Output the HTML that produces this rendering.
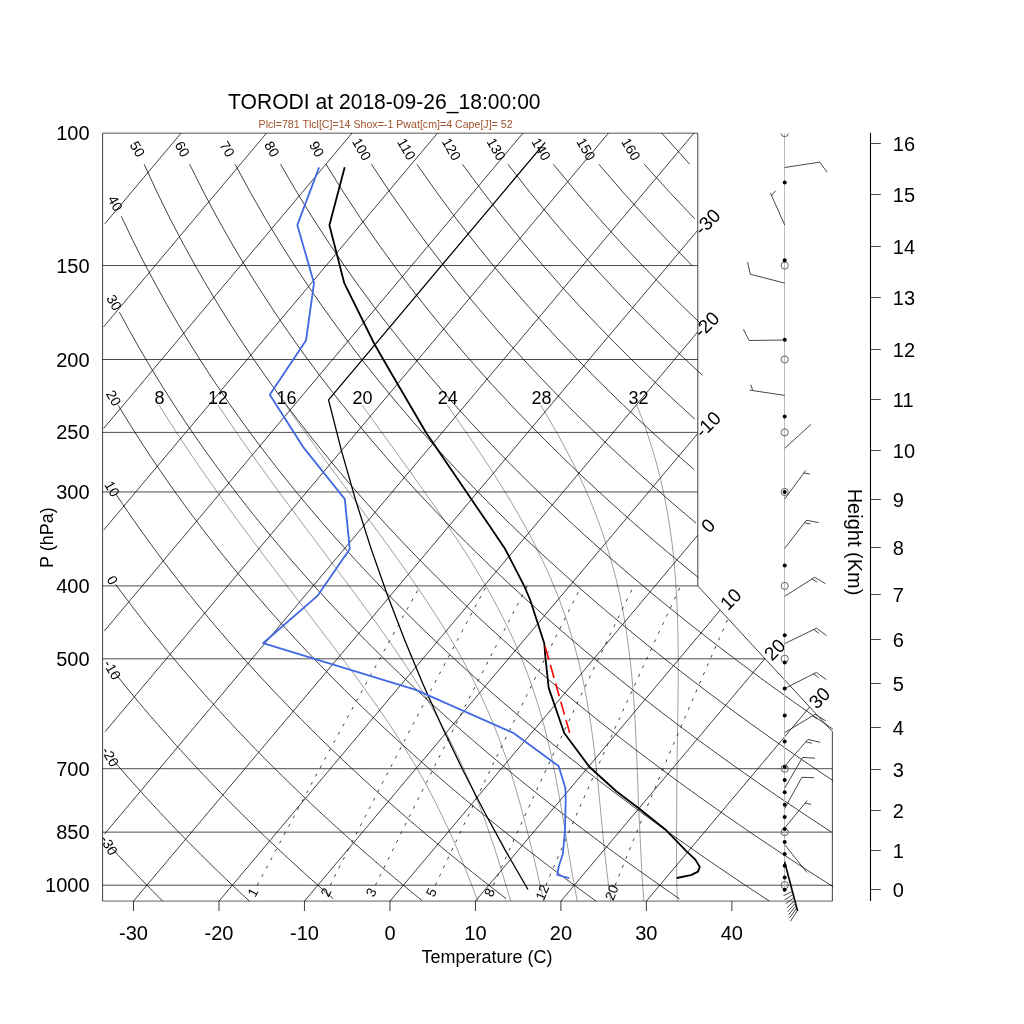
<!DOCTYPE html>
<html><head><meta charset="utf-8"><style>
html,body{margin:0;padding:0;background:#fff;}
svg{display:block;will-change:transform;}
text{font-family:"Liberation Sans",sans-serif;}
.ib{stroke:#000;stroke-width:1;opacity:.7}
.it,.da{stroke:#000;stroke-width:1;fill:none;opacity:.75}
.ma{stroke:#000;stroke-width:.8;fill:none;opacity:.48}
.mr{stroke:#000;stroke-width:1;fill:none;stroke-dasharray:3 6.5;opacity:.75}
.sa{stroke:#000;stroke-width:1.3;fill:none}
.ol{stroke:#000;stroke-width:1;fill:none;opacity:.75}
.td{stroke:#000;stroke-width:1.8;fill:none;stroke-linejoin:round}
.dw{stroke:#4169e1;stroke-width:1.8;fill:none;stroke-linejoin:round}
.pc{stroke:#f00;stroke-width:1.6;fill:none;stroke-dasharray:13.5 5.5}
.dl{font-size:14px;text-anchor:middle;dominant-baseline:central}
.ml{font-size:18px;text-anchor:middle;dominant-baseline:central}
.xl{font-size:13.5px;text-anchor:middle;dominant-baseline:central}
.tl{font-size:19px;text-anchor:middle;dominant-baseline:central}
.pl{font-size:20px;text-anchor:end;dominant-baseline:central}
.xt{font-size:20px;text-anchor:middle}
.tk{stroke:#000;stroke-width:1;opacity:.75}
.wind .staff{stroke:#bbb;stroke-width:1}
.oc{fill:none;stroke:#555;stroke-width:.9}
.wind line{stroke:#333;stroke-width:.9}
.hax{stroke:#000;stroke-width:1.1}
.htk{stroke:#000;stroke-width:1;opacity:.7}
.hl{font-size:20px}
</style></head><body>
<svg width="1024" height="1024" viewBox="0 0 1024 1024">
<rect width="1024" height="1024" fill="#fff"/>
<text x="228.0" y="108.7" style="font-size:22px" textLength="312.6" lengthAdjust="spacingAndGlyphs">TORODI at 2018-09-26_18:00:00</text>
<text x="258.6" y="128" style="font-size:10.7px;fill:#a0522d" textLength="254" lengthAdjust="spacingAndGlyphs">Plcl=781 Tlcl[C]=14 Shox=-1 Pwat[cm]=4 Cape[J]= 52</text>
<clipPath id="vp"><rect x="101.8" y="132.3" width="731.4" height="769.5"/></clipPath>
<g clip-path="url(#vp)">
<line x1="102.6" y1="885.22" x2="832.36" y2="885.22" class="ib"/>
<line x1="102.6" y1="832.13" x2="832.36" y2="832.13" class="ib"/>
<line x1="102.6" y1="768.71" x2="832.36" y2="768.71" class="ib"/>
<line x1="102.6" y1="658.81" x2="765.12" y2="658.81" class="ib"/>
<line x1="102.6" y1="585.92" x2="697.81" y2="585.92" class="ib"/>
<line x1="102.6" y1="491.95" x2="697.81" y2="491.95" class="ib"/>
<line x1="102.6" y1="432.39" x2="697.81" y2="432.39" class="ib"/>
<line x1="102.6" y1="359.51" x2="697.81" y2="359.51" class="ib"/>
<line x1="102.6" y1="265.54" x2="697.81" y2="265.54" class="ib"/>
<line x1="104.83" y1="223.78" x2="181.1" y2="133.1" class="it"/>
<line x1="103.58" y1="326.9" x2="266.58" y2="133.1" class="it"/>
<line x1="103.66" y1="428.45" x2="352.06" y2="133.1" class="it"/>
<line x1="103.79" y1="529.94" x2="437.55" y2="133.1" class="it"/>
<line x1="104.39" y1="630.86" x2="523.03" y2="133.1" class="it"/>
<line x1="105.06" y1="731.69" x2="608.51" y2="133.1" class="it"/>
<line x1="104.46" y1="834.05" x2="693.99" y2="133.1" class="it"/>
<line x1="133.5" y1="901.16" x2="697.81" y2="230.2" class="it"/>
<line x1="218.98" y1="901.16" x2="697.81" y2="331.83" class="it"/>
<line x1="304.46" y1="901.16" x2="697.81" y2="433.47" class="it"/>
<line x1="389.95" y1="901.16" x2="697.81" y2="535.11" class="it"/>
<line x1="475.43" y1="901.16" x2="720.17" y2="610.16" class="it"/>
<line x1="560.91" y1="901.16" x2="764.92" y2="658.59" class="it"/>
<line x1="646.39" y1="901.16" x2="809.67" y2="707.02" class="it"/>
<polyline points="110.79,847.15 114.16,850.8 117.5,854.41 120.84,857.98 124.15,861.51 127.45,865.01 130.73,868.46 134,871.88 137.25,875.27 140.48,878.62 143.7,881.93 146.91,885.22 150.1,888.47 153.27,891.69 156.43,894.87 159.58,898.03 162.71,901.15" class="da"/>
<polyline points="112.35,759.24 116.45,764.01 120.52,768.71 124.56,773.35 128.59,777.91 132.58,782.42 136.56,786.86 140.51,791.25 144.43,795.57 148.33,799.84 152.21,804.06 156.07,808.22 159.9,812.33 163.72,816.39 167.51,820.39 171.28,824.35 175.03,828.27 178.76,832.13 182.47,835.95 186.15,839.73 189.82,843.46 193.47,847.15 197.1,850.8 200.71,854.41 204.3,857.98 207.88,861.51 211.43,865.01 214.97,868.46 218.49,871.88 221.99,875.27 225.47,878.62 228.94,881.93 232.39,885.22 235.83,888.47 239.24,891.69 242.64,894.87 246.03,898.03 249.4,901.15" class="da"/>
<polyline points="114.81,672.87 119.76,679.07 124.68,685.15 129.55,691.12 134.39,696.99 139.19,702.75 143.96,708.41 148.69,713.98 153.39,719.45 158.05,724.83 162.68,730.12 167.27,735.33 171.84,740.46 176.37,745.51 180.87,750.48 185.35,755.38 189.79,760.2 194.2,764.96 198.58,769.64 202.94,774.26 207.27,778.82 211.57,783.31 215.84,787.75 220.08,792.12 224.3,796.43 228.5,800.69 232.66,804.9 236.81,809.05 240.92,813.14 245.02,817.19 249.09,821.19 253.13,825.14 257.16,829.04 261.16,832.9 265.13,836.71 269.09,840.48 273.02,844.2 276.93,847.89 280.82,851.53 284.69,855.13 288.54,858.69 292.37,862.21 296.17,865.7 299.96,869.15 303.73,872.56 307.48,875.94 311.21,879.28 314.92,882.59 318.61,885.87 322.28,889.11 325.94,892.33 329.58,895.51 333.2,898.66" class="da"/>
<polyline points="115.6,584.28 121.56,592.39 127.46,600.3 133.31,608.02 139.11,615.56 144.85,622.94 150.54,630.15 156.18,637.2 161.76,644.11 167.31,650.87 172.8,657.5 178.24,663.99 183.64,670.36 189,676.6 194.31,682.73 199.58,688.75 204.8,694.66 209.99,700.46 215.13,706.16 220.24,711.76 225.3,717.27 230.33,722.69 235.32,728.02 240.27,733.26 245.19,738.42 250.07,743.5 254.92,748.5 259.73,753.43 264.51,758.28 269.25,763.06 273.96,767.78 278.64,772.42 283.29,777.01 287.91,781.52 292.5,785.98 297.06,790.38 301.59,794.71 306.09,798.99 310.56,803.22 315,807.39 319.42,811.51 323.81,815.58 328.17,819.6 332.51,823.57 336.82,827.49 341.1,831.36 345.36,835.19 349.6,838.98 353.81,842.72 358,846.42 362.16,850.08 366.3,853.69 370.42,857.27 374.51,860.81 378.59,864.31 382.64,867.77 386.66,871.2 390.67,874.59 394.66,877.95 398.62,881.27 402.57,884.56 406.49,887.82 410.4,891.04 414.28,894.24 418.15,897.4 422,900.53" class="da"/>
<polyline points="115.94,494.12 123.07,504.76 130.13,515.07 137.11,525.05 144,534.75 150.83,544.16 157.57,553.31 164.25,562.21 170.85,570.88 177.39,579.32 183.86,587.55 190.26,595.57 196.6,603.41 202.87,611.06 209.09,618.53 215.24,625.84 221.34,632.99 227.38,639.98 233.37,646.83 239.3,653.54 245.17,660.11 251,666.55 256.77,672.87 262.49,679.07 268.17,685.15 273.8,691.12 279.38,696.99 284.91,702.75 290.4,708.41 295.85,713.98 301.25,719.45 306.61,724.83 311.93,730.12 317.21,735.33 322.45,740.46 327.65,745.51 332.81,750.48 337.94,755.38 343.03,760.2 348.08,764.96 353.09,769.64 358.08,774.26 363.02,778.82 367.94,783.31 372.82,787.75 377.66,792.12 382.48,796.43 387.26,800.69 392.02,804.9 396.74,809.05 401.43,813.14 406.1,817.19 410.73,821.19 415.34,825.14 419.91,829.04 424.46,832.9 428.99,836.71 433.48,840.48 437.95,844.2 442.4,847.89 446.82,851.53 451.21,855.13 455.58,858.69 459.92,862.21 464.24,865.7 468.54,869.15 472.81,872.56 477.06,875.94 481.29,879.28 485.49,882.59 489.67,885.87 493.83,889.11 497.97,892.33 502.09,895.51 506.18,898.66" class="da"/>
<polyline points="118.12,405.16 126.59,419.06 134.94,432.39 143.18,445.21 151.31,457.53 159.34,469.41 167.26,480.88 175.08,491.95 182.8,502.66 190.43,513.03 197.97,523.08 205.42,532.83 212.78,542.3 220.05,551.5 227.24,560.45 234.36,569.16 241.39,577.65 248.34,585.92 255.23,593.98 262.04,601.85 268.77,609.54 275.44,617.05 282.05,624.39 288.58,631.57 295.06,638.59 301.47,645.47 307.82,652.21 314.11,658.81 320.34,665.27 326.52,671.62 332.64,677.84 338.71,683.94 344.72,689.94 350.68,695.82 356.6,701.61 362.46,707.29 368.27,712.87 374.04,718.36 379.76,723.76 385.43,729.07 391.06,734.3 396.65,739.44 402.19,744.51 407.69,749.49 413.15,754.4 418.57,759.24 423.95,764.01 429.29,768.71 434.59,773.35 439.85,777.91 445.08,782.42 450.27,786.86 455.43,791.25 460.55,795.57 465.63,799.84 470.69,804.06 475.71,808.22 480.69,812.33 485.65,816.39 490.57,820.39 495.46,824.35 500.33,828.27 505.16,832.13 509.96,835.95 514.73,839.73 519.48,843.46 524.19,847.15 528.88,850.8 533.54,854.41 538.17,857.98 542.78,861.51 547.36,865.01 551.92,868.46 556.45,871.88 560.95,875.27 565.43,878.62 569.89,881.93 574.32,885.22 578.73,888.47 583.11,891.69 587.47,894.87 591.81,898.03 596.13,901.15" class="da"/>
<polyline points="119.36,312.14 129.35,330.49 139.18,347.87 148.86,364.37 158.39,380.08 167.78,395.06 177.03,409.39 186.14,423.12 195.12,436.29 203.97,448.95 212.7,461.14 221.3,472.89 229.79,484.24 238.16,495.2 246.42,505.81 254.58,516.08 262.63,526.04 270.58,535.7 278.44,545.09 286.19,554.21 293.86,563.09 301.44,571.73 308.93,580.15 316.33,588.36 323.66,596.36 330.9,604.18 338.07,611.81 345.16,619.27 352.17,626.56 359.12,633.69 365.99,640.67 372.8,647.51 379.54,654.2 386.22,660.76 392.83,667.19 399.38,673.5 405.87,679.68 412.3,685.75 418.68,691.72 424.99,697.57 431.26,703.32 437.46,708.97 443.62,714.53 449.73,719.99 455.78,725.36 461.79,730.65 467.74,735.85 473.65,740.97 479.52,746.01 485.33,750.97 491.11,755.86 496.84,760.68 502.52,765.43 508.17,770.11 513.77,774.72 519.33,779.27 524.86,783.76 530.34,788.19 535.79,792.55 541.2,796.86 546.57,801.11 551.9,805.31 557.2,809.46 562.47,813.55 567.7,817.59 572.89,821.59 578.05,825.53 583.18,829.43 588.28,833.28 593.35,837.09 598.38,840.85 603.39,844.57 608.36,848.25 613.3,851.89 618.22,855.49 623.1,859.04 627.96,862.56 632.79,866.05 637.59,869.49 642.37,872.9 647.11,876.28 651.84,879.62 656.53,882.92 661.2,886.2 665.84,889.44 670.46,892.64 675.06,895.82 679.63,898.97" class="da"/>
<polyline points="121.26,216.27 132.91,240.66 144.38,263.35 155.66,284.57 166.74,304.49 177.63,323.27 188.34,341.03 198.87,357.87 209.22,373.88 219.41,389.15 229.42,403.74 239.28,417.7 248.98,431.09 258.53,443.95 267.94,456.32 277.21,468.24 286.34,479.75 295.35,490.86 304.23,501.6 312.98,512.01 321.62,522.09 330.15,531.87 338.56,541.37 346.87,550.59 355.08,559.57 363.19,568.3 371.19,576.81 379.11,585.1 386.93,593.19 394.67,601.08 402.31,608.78 409.88,616.31 417.36,623.66 424.76,630.86 432.09,637.9 439.34,644.79 446.52,651.54 453.62,658.15 460.66,664.63 467.63,670.99 474.53,677.22 481.37,683.34 488.14,689.34 494.86,695.24 501.51,701.03 508.1,706.72 514.64,712.32 521.12,717.82 527.54,723.22 533.91,728.54 540.23,733.78 546.5,738.93 552.72,744 558.88,749 565,753.92 571.07,758.76 577.1,763.54 583.07,768.25 589.01,772.88 594.9,777.46 600.75,781.97 606.55,786.42 612.31,790.81 618.04,795.14 623.72,799.42 629.36,803.64 634.97,807.81 640.53,811.92 646.06,815.98 651.55,820 657.01,823.96 662.43,827.88 667.82,831.75 673.17,835.57 678.49,839.35 683.78,843.09 689.03,846.78 694.25,850.44 699.44,854.05 704.6,857.63 709.72,861.16 714.82,864.66 719.89,868.12 724.93,871.54 729.93,874.93 734.91,878.28 739.87,881.6 744.79,884.89 749.69,888.14 754.56,891.37 759.41,894.55 764.22,897.71 769.02,900.84" class="da"/>
<polyline points="144.12,164.23 157.24,192.65 170.13,218.8 182.79,243 195.2,265.54 207.38,286.62 219.33,306.42 231.06,325.09 242.57,342.75 253.86,359.51 264.96,375.44 275.85,390.64 286.56,405.16 297.09,419.06 307.44,432.39 317.63,445.21 327.66,457.53 337.52,469.41 347.25,480.88 356.82,491.95 366.26,502.66 375.56,513.03 384.73,523.08 393.78,532.83 402.71,542.3 411.52,551.5 420.22,560.45 428.81,569.16 437.29,577.65 445.67,585.92 453.95,593.98 462.13,601.85 470.22,609.54 478.22,617.05 486.13,624.39 493.96,631.57 501.7,638.59 509.36,645.47 516.94,652.21 524.44,658.81 531.87,665.27 539.22,671.62 546.51,677.84 553.72,683.94 560.86,689.94 567.94,695.82 574.96,701.61 581.91,707.29 588.8,712.87 595.63,718.36 602.4,723.76 609.11,729.07 615.76,734.3 622.36,739.44 628.91,744.51 635.4,749.49 641.84,754.4 648.23,759.24 654.57,764.01 660.86,768.71 667.11,773.35 673.3,777.91 679.45,782.42 685.56,786.86 691.62,791.25 697.64,795.57 703.61,799.84 709.54,804.06 715.43,808.22 721.28,812.33 727.1,816.39 732.87,820.39 738.6,824.35 744.3,828.27 749.96,832.13 755.58,835.95 761.16,839.73 766.72,843.46 772.23,847.15 777.71,850.8 783.16,854.41 788.58,857.98 793.96,861.51 799.31,865.01 804.63,868.46 809.92,871.88 815.17,875.27 820.4,878.62 825.6,881.93 830.77,885.22 835.9,888.47" class="da"/>
<polyline points="189.59,164.23 203.85,192.65 217.82,218.8 231.5,243 244.89,265.54 258,286.62 270.83,306.42 283.41,325.09 295.73,342.75 307.81,359.51 319.66,375.44 331.29,390.64 342.71,405.16 353.93,419.06 364.95,432.39 375.78,445.21 386.44,457.53 396.92,469.41 407.24,480.88 417.4,491.95 427.41,502.66 437.27,513.03 446.99,523.08 456.57,532.83 466.02,542.3 475.34,551.5 484.54,560.45 493.63,569.16 502.59,577.65 511.45,585.92 520.19,593.98 528.83,601.85 537.37,609.54 545.82,617.05 554.16,624.39 562.42,631.57 570.58,638.59 578.65,645.47 586.64,652.21 594.55,658.81 602.38,665.27 610.12,671.62 617.79,677.84 625.39,683.94 632.91,689.94 640.36,695.82 647.74,701.61 655.06,707.29 662.31,712.87 669.49,718.36 676.61,723.76 683.67,729.07 690.66,734.3 697.6,739.44 704.48,744.51 711.3,749.49 718.07,754.4 724.79,759.24 731.45,764.01 738.05,768.71 744.61,773.35 751.12,777.91 757.58,782.42 763.99,786.86 770.35,791.25 776.66,795.57 782.93,799.84 789.16,804.06 795.34,808.22 801.48,812.33 807.58,816.39 813.63,820.39 819.65,824.35 825.62,828.27 831.56,832.13" class="da"/>
<polyline points="235.06,164.23 250.47,192.65 265.52,218.8 280.22,243 294.58,265.54 308.61,286.62 322.33,306.42 335.75,325.09 348.89,342.75 361.76,359.51 374.37,375.44 386.73,390.64 398.86,405.16 410.76,419.06 422.45,432.39 433.93,445.21 445.22,457.53 456.32,469.41 467.24,480.88 477.98,491.95 488.56,502.66 498.98,513.03 509.24,523.08 519.36,532.83 529.33,542.3 539.17,551.5 548.87,560.45 558.44,569.16 567.89,577.65 577.22,585.92 586.43,593.98 595.53,601.85 604.52,609.54 613.41,617.05 622.19,624.39 630.87,631.57 639.46,638.59 647.95,645.47 656.35,652.21 664.66,658.81 672.88,665.27 681.02,671.62 689.08,677.84 697.06,683.94 704.96,689.94 712.78,695.82 720.53,701.61 728.21,707.29 735.81,712.87 743.35,718.36 750.82,723.76 758.22,729.07 765.56,734.3 772.84,739.44 780.05,744.51 787.21,749.49 794.3,754.4 801.34,759.24 808.32,764.01 815.25,768.71 822.12,773.35 828.93,777.91 835.7,782.42" class="da"/>
<polyline points="280.52,164.23 297.08,192.65 313.21,218.8 328.93,243 344.26,265.54 359.22,286.62 373.83,306.42 388.1,325.09 402.05,342.75 415.7,359.51 429.07,375.44 442.17,390.64 455,405.16 467.6,419.06 479.95,432.39 492.08,445.21 504,457.53 515.71,469.41 527.23,480.88 538.56,491.95 549.71,502.66 560.69,513.03 571.5,523.08 582.15,532.83 592.64,542.3 602.99,551.5 613.2,560.45 623.26,569.16 633.19,577.65 643,585.92 652.68,593.98 662.23,601.85 671.68,609.54 681,617.05 690.22,624.39 699.33,631.57 708.34,638.59 717.25,645.47 726.06,652.21 734.77,658.81 743.39,665.27 751.93,671.62 760.37,677.84 768.73,683.94 777.01,689.94 785.2,695.82 793.32,701.61 801.36,707.29 809.32,712.87 817.21,718.36 825.03,723.76 832.78,729.07" class="da"/>
<polyline points="325.99,164.23 343.69,192.65 360.9,218.8 377.65,243 393.95,265.54 409.83,286.62 425.32,306.42 440.44,325.09 455.21,342.75 469.65,359.51 483.78,375.44 497.61,390.64 511.15,405.16 524.43,419.06 537.45,432.39 550.23,445.21 562.78,457.53 575.11,469.41 587.23,480.88 599.14,491.95 610.86,502.66 622.4,513.03 633.75,523.08 644.94,532.83 655.95,542.3 666.81,551.5 677.52,560.45 688.08,569.16 698.49,577.65" class="da"/>
<polyline points="371.46,164.23 390.31,192.65 408.6,218.8 426.36,243 443.63,265.54 460.44,286.62 476.82,306.42 492.79,325.09 508.37,342.75 523.6,359.51 538.48,375.44 553.04,390.64 567.3,405.16 581.26,419.06 594.96,432.39 608.39,445.21 621.57,457.53 634.51,469.41 647.22,480.88 659.72,491.95 672.01,502.66 684.11,513.03 696.01,523.08" class="da"/>
<polyline points="416.93,164.23 436.92,192.65 456.29,218.8 475.08,243 493.32,265.54 511.06,286.62 528.32,306.42 545.14,325.09 561.54,342.75 577.55,359.51 593.19,375.44 608.48,390.64 623.45,405.16 638.1,419.06 652.46,432.39 666.54,445.21 680.35,457.53 693.9,469.41" class="da"/>
<polyline points="462.4,164.23 483.54,192.65 503.99,218.8 523.79,243 543.01,265.54 561.67,286.62 579.81,306.42 597.48,325.09 614.7,342.75 631.49,359.51 647.89,375.44 663.92,390.64 679.59,405.16 694.93,419.06" class="da"/>
<polyline points="507.87,164.23 530.15,192.65 551.68,218.8 572.51,243 592.69,265.54 612.28,286.62 631.31,306.42 649.83,325.09 667.86,342.75 685.44,359.51 702.6,375.44" class="da"/>
<polyline points="553.34,164.23 576.77,192.65 599.37,218.8 621.22,243 642.38,265.54 662.89,286.62 682.81,306.42 702.17,325.09" class="da"/>
<polyline points="598.8,164.23 623.38,192.65 647.07,218.8 669.94,243 692.07,265.54" class="da"/>
<polyline points="644.27,164.23 670,192.65 694.76,218.8" class="da"/>
<polyline points="661.74,133.1 689.74,164.23" class="da"/>
<polyline points="677.31,901.15 677.21,898.03 677.12,894.87 677.04,891.69 676.97,888.47 676.9,885.22 676.84,881.93 676.78,878.62 676.73,875.27 676.69,871.88 676.64,868.46 676.61,865.01 676.6,861.51 676.58,857.98 676.56,854.41 676.55,850.8 676.55,847.15 676.55,843.46 676.55,839.73 676.56,835.95 676.58,832.13 676.59,828.27 676.61,824.35 676.64,820.39 676.66,816.39 676.69,812.33 676.72,808.22 676.76,804.06 676.79,799.84 676.82,795.57 676.85,791.25 676.88,786.86 676.91,782.42 676.97,777.91 677,773.35 677.03,768.71 677.05,764.01 677.11,759.24 677.17,754.4 677.24,749.49 677.31,744.51 677.39,739.44 677.47,734.3 677.56,729.07 677.64,723.76 677.73,718.36 677.82,712.87 677.9,707.29 677.98,701.61 678.05,695.82 678.12,689.94 678.15,683.94 678.19,677.84 678.21,671.62 678.22,665.27 678.21,658.81 678.17,652.21 678.11,645.47 678.01,638.59 677.88,631.57 677.7,624.39 677.48,617.05 677.2,609.54 676.86,601.85 676.45,593.98 675.96,585.92 675.38,577.65 674.7,569.16 673.89,560.45 673.01,551.5 671.94,542.3 670.56,532.83 669.19,523.08 667.53,513.03 665.63,502.66 663.45,491.95 660.96,480.88 658.12,469.41 654.87,457.53 651.16,445.21 646.98,432.39 642.21,419.06 636.8,405.16" class="ma"/>
<polyline points="643.84,901.15 643.6,898.03 643.37,894.87 643.14,891.69 642.92,888.47 642.71,885.22 642.5,881.93 642.29,878.62 642.09,875.27 641.88,871.88 641.68,868.46 641.48,865.01 641.32,861.51 641.14,857.98 640.95,854.41 640.77,850.8 640.59,847.15 640.41,843.46 640.24,839.73 640.06,835.95 639.88,832.13 639.7,828.27 639.51,824.35 639.33,820.39 639.13,816.39 638.94,812.33 638.74,808.22 638.56,804.06 638.39,799.84 638.22,795.57 638.04,791.25 637.91,786.86 637.75,782.42 637.58,777.91 637.41,773.35 637.23,768.71 637.05,764.01 636.87,759.24 636.67,754.4 636.47,749.49 636.25,744.51 636.02,739.44 635.78,734.3 635.52,729.07 635.24,723.76 634.94,718.36 634.61,712.87 634.26,707.29 633.88,701.61 633.46,695.82 633.01,689.94 632.52,683.94 631.98,677.84 631.34,671.62 630.68,665.27 629.97,658.81 629.18,652.21 628.32,645.47 627.38,638.59 626.35,631.57 625.22,624.39 624.04,617.05 622.66,609.54 621.15,601.85 619.5,593.98 617.65,585.92 615.69,577.65 613.5,569.16 611.1,560.45 608.48,551.5 605.61,542.3 602.46,532.83 599.01,523.08 595.23,513.03 591.08,502.66 586.53,491.95 581.54,480.88 576.1,469.41 570.15,457.53 563.67,445.21 556.61,432.39 548.95,419.06 540.64,405.16" class="ma"/>
<polyline points="610.55,901.15 610.13,898.03 609.72,894.87 609.31,891.69 608.91,888.47 608.51,885.22 608.11,881.93 607.72,878.62 607.32,875.27 606.92,871.88 606.51,868.46 606.14,865.01 605.74,861.51 605.34,857.98 604.94,854.41 604.53,850.8 604.14,847.15 603.77,843.46 603.39,839.73 603.02,835.95 602.64,832.13 602.27,828.27 601.9,824.35 601.52,820.39 601.14,816.39 600.76,812.33 600.37,808.22 599.97,804.06 599.56,799.84 599.14,795.57 598.75,791.25 598.32,786.86 597.88,782.42 597.42,777.91 596.94,773.35 596.45,768.71 595.93,764.01 595.39,759.24 594.82,754.4 594.23,749.49 593.61,744.51 592.95,739.44 592.25,734.3 591.52,729.07 590.74,723.76 589.92,718.36 589.04,712.87 588.1,707.29 587.11,701.61 586.04,695.82 584.91,689.94 583.7,683.94 582.4,677.84 581.01,671.62 579.52,665.27 577.92,658.81 576.2,652.21 574.36,645.47 572.39,638.59 570.25,631.57 567.99,624.39 565.55,617.05 562.92,609.54 560.1,601.85 557.07,593.98 553.81,585.92 550.32,577.65 546.57,569.16 542.54,560.45 538.22,551.5 533.59,542.3 528.63,532.83 523.31,523.08 517.62,513.03 511.58,502.66 505.11,491.95 498.23,480.88 490.91,469.41 483.14,457.53 474.9,445.21 466.18,432.39 456.96,419.06 447.24,405.16" class="ma"/>
<polyline points="577.24,901.15 576.67,898.03 576.09,894.87 575.51,891.69 574.92,888.47 574.32,885.22 573.71,881.93 573.11,878.62 572.51,875.27 571.91,871.88 571.31,868.46 570.7,865.01 570.09,861.51 569.53,857.98 568.93,854.41 568.34,850.8 567.74,847.15 567.13,843.46 566.52,839.73 565.9,835.95 565.28,832.13 564.65,828.27 564.01,824.35 563.35,820.39 562.69,816.39 562,812.33 561.31,808.22 560.59,804.06 559.85,799.84 559.09,795.57 558.31,791.25 557.5,786.86 556.7,782.42 555.84,777.91 554.95,773.35 554.01,768.71 553.04,764.01 552.03,759.24 550.98,754.4 549.87,749.49 548.71,744.51 547.5,739.44 546.22,734.3 544.88,729.07 543.47,723.76 541.99,718.36 540.42,712.87 538.77,707.29 537.02,701.61 535.18,695.82 533.21,689.94 531.17,683.94 529.01,677.84 526.69,671.62 524.24,665.27 521.66,658.81 518.92,652.21 516.02,645.47 512.95,638.59 509.7,631.57 506.25,624.39 502.61,617.05 498.75,609.54 494.67,601.85 490.35,593.98 485.79,585.92 480.97,577.65 475.89,569.16 470.53,560.45 464.88,551.5 458.94,542.3 452.69,532.83 446.18,523.08 439.32,513.03 432.12,502.66 424.6,491.95 416.73,480.88 408.52,469.41 399.95,457.53 391.02,445.21 381.73,432.39 372.07,419.06 362.03,405.16" class="ma"/>
<polyline points="543.77,901.15 543.05,898.03 542.32,894.87 541.6,891.69 540.86,888.47 540.13,885.22 539.38,881.93 538.63,878.62 537.87,875.27 537.09,871.88 536.3,868.46 535.49,865.01 534.71,861.51 533.89,857.98 533.05,854.41 532.16,850.8 531.26,847.15 530.34,843.46 529.41,839.73 528.47,835.95 527.5,832.13 526.52,828.27 525.52,824.35 524.49,820.39 523.44,816.39 522.37,812.33 521.26,808.22 520.13,804.06 518.96,799.84 517.75,795.57 516.51,791.25 515.23,786.86 513.9,782.42 512.53,777.91 511.1,773.35 509.63,768.71 508.1,764.01 506.5,759.24 504.84,754.4 503.12,749.49 501.32,744.51 499.44,739.44 497.48,734.3 495.44,729.07 493.3,723.76 491.05,718.36 488.71,712.87 486.26,707.29 483.7,701.61 481.02,695.82 478.2,689.94 475.26,683.94 472.18,677.84 468.95,671.62 465.56,665.27 462.02,658.81 458.31,652.21 454.43,645.47 450.38,638.59 446.13,631.57 441.69,624.39 437.06,617.05 432.22,609.54 427.17,601.85 421.91,593.98 416.43,585.92 410.72,577.65 404.78,569.16 398.61,560.45 392.2,551.5 385.55,542.3 378.66,532.83 371.51,523.08 364.12,513.03 356.53,502.66 348.63,491.95 340.47,480.88 332.03,469.41 323.34,457.53 314.36,445.21 305.12,432.39 295.59,419.06 285.79,405.16" class="ma"/>
<polyline points="510.67,901.15 509.74,898.03 508.8,894.87 507.86,891.69 506.9,888.47 505.93,885.22 504.95,881.93 503.96,878.62 502.94,875.27 501.91,871.88 500.85,868.46 499.82,865.01 498.73,861.51 497.63,857.98 496.5,854.41 495.34,850.8 494.16,847.15 492.95,843.46 491.71,839.73 490.44,835.95 489.13,832.13 487.79,828.27 486.4,824.35 484.98,820.39 483.5,816.39 481.97,812.33 480.37,808.22 478.73,804.06 477.04,799.84 475.31,795.57 473.52,791.25 471.67,786.86 469.77,782.42 467.81,777.91 465.78,773.35 463.68,768.71 461.51,764.01 459.26,759.24 456.94,754.4 454.52,749.49 452.02,744.51 449.42,739.44 446.76,734.3 443.97,729.07 441.09,723.76 438.09,718.36 434.98,712.87 431.75,707.29 428.41,701.61 424.93,695.82 421.33,689.94 417.59,683.94 413.72,677.84 409.7,671.62 405.53,665.27 401.22,658.81 396.75,652.21 392.13,645.47 387.34,638.59 382.39,631.57 377.28,624.39 371.99,617.05 366.54,609.54 360.91,601.85 355.1,593.98 349.12,585.92 342.96,577.65 336.61,569.16 330.07,560.45 323.36,551.5 316.45,542.3 309.35,532.83 302.05,523.08 294.57,513.03 286.88,502.66 278.99,491.95 270.91,480.88 262.62,469.41 254.12,457.53 245.42,445.21 236.51,432.39 227.4,419.06 218.07,405.16" class="ma"/>
<polyline points="477.77,901.15 476.59,898.03 475.41,894.87 474.2,891.69 472.98,888.47 471.74,885.22 470.48,881.93 469.19,878.62 467.88,875.27 466.53,871.88 465.15,868.46 463.79,865.01 462.37,861.51 460.92,857.98 459.43,854.41 457.91,850.8 456.36,847.15 454.77,843.46 453.13,839.73 451.46,835.95 449.74,832.13 447.98,828.27 446.17,824.35 444.31,820.39 442.4,816.39 440.43,812.33 438.41,808.22 436.33,804.06 434.18,799.84 431.97,795.57 429.69,791.25 427.34,786.86 424.92,782.42 422.42,777.91 419.84,773.35 417.18,768.71 414.44,764.01 411.6,759.24 408.67,754.4 405.68,749.49 402.57,744.51 399.33,739.44 395.99,734.3 392.55,729.07 389.01,723.76 385.36,718.36 381.61,712.87 377.74,707.29 373.77,701.61 369.67,695.82 365.46,689.94 361.14,683.94 356.69,677.84 352.11,671.62 347.41,665.27 342.59,658.81 337.63,652.21 332.55,645.47 327.33,638.59 321.98,631.57 316.5,624.39 310.88,617.05 305.12,609.54 299.22,601.85 293.19,593.98 287.01,585.92 280.69,577.65 274.23,569.16 267.62,560.45 260.86,551.5 253.96,542.3 246.9,532.83 239.7,523.08 232.34,513.03 224.83,502.66 217.16,491.95 209.34,480.88 201.36,469.41 193.22,457.53 184.92,445.21 176.47,432.39 167.85,419.06 159.08,405.16" class="ma"/>
<polyline points="615.16,885.22 616.48,881.93 617.82,878.62 619.17,875.27 620.54,871.88 621.92,868.46 623.32,865.01 624.74,861.51 626.18,857.98 627.63,854.41 629.1,850.8 630.59,847.15 632.1,843.46 633.62,839.73 635.17,835.95 636.74,832.13 638.33,828.27 639.94,824.35 641.58,820.39 643.23,816.39 644.91,812.33 646.61,808.22 648.34,804.06 650.09,799.84 651.87,795.57 653.68,791.25 655.51,786.86 657.37,782.42 659.26,777.91 661.18,773.35 663.13,768.71 665.11,764.01 667.12,759.24 669.17,754.4 671.25,749.49 673.37,744.51 675.53,739.44 677.72,734.3 679.95,729.07 682.22,723.76 684.54,718.36 686.9,712.87 689.3,707.29 691.75,701.61 694.25,695.82 696.8,689.94 699.4,683.94 702.05,677.84 704.76,671.62 707.54,665.27 710.37,658.81 713.26,652.21 716.22,645.47 719.25,638.59 722.36,631.57 725.54,624.39 728.06,618.7" class="mr"/>
<polyline points="545.89,885.22 547.3,881.93 548.72,878.62 550.16,875.27 551.62,871.88 553.09,868.46 554.58,865.01 556.09,861.51 557.62,857.98 559.17,854.41 560.73,850.8 562.32,847.15 563.92,843.46 565.54,839.73 567.19,835.95 568.86,832.13 570.55,828.27 572.26,824.35 573.99,820.39 575.75,816.39 577.53,812.33 579.34,808.22 581.17,804.06 583.03,799.84 584.92,795.57 586.83,791.25 588.78,786.86 590.75,782.42 592.75,777.91 594.78,773.35 596.85,768.71 598.95,764.01 601.08,759.24 603.25,754.4 605.45,749.49 607.69,744.51 609.97,739.44 612.29,734.3 614.64,729.07 617.05,723.76 619.49,718.36 621.98,712.87 624.52,707.29 627.11,701.61 629.74,695.82 632.43,689.94 635.18,683.94 637.98,677.84 640.83,671.62 643.75,665.27 646.74,658.81 649.79,652.21 652.9,645.47 656.1,638.59 659.36,631.57 662.7,624.39 666.13,617.05 669.64,609.54 673.25,601.85 676.95,593.98 680.74,585.92" class="mr"/>
<polyline points="493.4,885.22 494.87,881.93 496.36,878.62 497.86,875.27 499.39,871.88 500.93,868.46 502.48,865.01 504.06,861.51 505.66,857.98 507.27,854.41 508.9,850.8 510.56,847.15 512.23,843.46 513.93,839.73 515.65,835.95 517.39,832.13 519.15,828.27 520.94,824.35 522.75,820.39 524.58,816.39 526.44,812.33 528.32,808.22 530.23,804.06 532.17,799.84 534.14,795.57 536.13,791.25 538.16,786.86 540.21,782.42 542.3,777.91 544.41,773.35 546.56,768.71 548.75,764.01 550.97,759.24 553.22,754.4 555.52,749.49 557.85,744.51 560.22,739.44 562.63,734.3 565.08,729.07 567.58,723.76 570.12,718.36 572.71,712.87 575.35,707.29 578.03,701.61 580.77,695.82 583.56,689.94 586.41,683.94 589.32,677.84 592.29,671.62 595.32,665.27 598.41,658.81 601.57,652.21 604.81,645.47 608.12,638.59 611.5,631.57 614.97,624.39 618.52,617.05 622.16,609.54 625.89,601.85 629.72,593.98 633.65,585.92" class="mr"/>
<polyline points="435.31,885.22 436.85,881.93 438.41,878.62 439.98,875.27 441.58,871.88 443.19,868.46 444.82,865.01 446.47,861.51 448.14,857.98 449.83,854.41 451.54,850.8 453.27,847.15 455.02,843.46 456.79,839.73 458.58,835.95 460.4,832.13 462.24,828.27 464.11,824.35 466,820.39 467.92,816.39 469.86,812.33 471.83,808.22 473.82,804.06 475.84,799.84 477.9,795.57 479.98,791.25 482.09,786.86 484.23,782.42 486.41,777.91 488.62,773.35 490.86,768.71 493.14,764.01 495.45,759.24 497.8,754.4 500.19,749.49 502.62,744.51 505.09,739.44 507.6,734.3 510.15,729.07 512.75,723.76 515.4,718.36 518.09,712.87 520.84,707.29 523.63,701.61 526.48,695.82 529.39,689.94 532.35,683.94 535.37,677.84 538.45,671.62 541.6,665.27 544.82,658.81 548.11,652.21 551.46,645.47 554.9,638.59 558.41,631.57 562.01,624.39 565.7,617.05 569.47,609.54 573.35,601.85 577.32,593.98 581.4,585.92" class="mr"/>
<polyline points="375.43,885.22 377.04,881.93 378.67,878.62 380.31,875.27 381.98,871.88 383.66,868.46 385.37,865.01 387.09,861.51 388.83,857.98 390.59,854.41 392.38,850.8 394.18,847.15 396.01,843.46 397.86,839.73 399.73,835.95 401.63,832.13 403.55,828.27 405.5,824.35 407.47,820.39 409.46,816.39 411.49,812.33 413.54,808.22 415.62,804.06 417.73,799.84 419.87,795.57 422.03,791.25 424.23,786.86 426.47,782.42 428.73,777.91 431.03,773.35 433.36,768.71 435.73,764.01 438.14,759.24 440.59,754.4 443.07,749.49 445.6,744.51 448.17,739.44 450.78,734.3 453.44,729.07 456.14,723.76 458.89,718.36 461.69,712.87 464.54,707.29 467.44,701.61 470.4,695.82 473.42,689.94 476.5,683.94 479.63,677.84 482.84,671.62 486.1,665.27 489.44,658.81 492.85,652.21 496.33,645.47 499.9,638.59 503.54,631.57 507.27,624.39 511.09,617.05 515,609.54 519.02,601.85 523.13,593.98 527.35,585.92" class="mr"/>
<polyline points="330.2,885.22 331.86,881.93 333.54,878.62 335.24,875.27 336.95,871.88 338.69,868.46 340.44,865.01 342.22,861.51 344.02,857.98 345.83,854.41 347.67,850.8 349.53,847.15 351.42,843.46 353.32,839.73 355.25,835.95 357.21,832.13 359.19,828.27 361.19,824.35 363.22,820.39 365.28,816.39 367.36,812.33 369.48,808.22 371.62,804.06 373.79,799.84 375.99,795.57 378.22,791.25 380.49,786.86 382.78,782.42 385.11,777.91 387.48,773.35 389.88,768.71 392.32,764.01 394.8,759.24 397.31,754.4 399.87,749.49 402.47,744.51 405.11,739.44 407.79,734.3 410.52,729.07 413.3,723.76 416.13,718.36 419.01,712.87 421.94,707.29 424.92,701.61 427.96,695.82 431.06,689.94 434.22,683.94 437.44,677.84 440.73,671.62 444.09,665.27 447.51,658.81 451.01,652.21 454.59,645.47 458.25,638.59 461.99,631.57 465.81,624.39 469.73,617.05 473.74,609.54 477.86,601.85 482.08,593.98 486.41,585.92" class="mr"/>
<polyline points="257.26,885.22 259,881.93 260.76,878.62 262.53,875.27 264.33,871.88 266.15,868.46 267.99,865.01 269.85,861.51 271.73,857.98 273.63,854.41 275.55,850.8 277.5,847.15 279.47,843.46 281.47,839.73 283.48,835.95 285.53,832.13 287.6,828.27 289.69,824.35 291.82,820.39 293.97,816.39 296.15,812.33 298.35,808.22 300.59,804.06 302.86,799.84 305.16,795.57 307.49,791.25 309.85,786.86 312.25,782.42 314.69,777.91 317.16,773.35 319.66,768.71 322.21,764.01 324.79,759.24 327.42,754.4 330.09,749.49 332.79,744.51 335.55,739.44 338.35,734.3 341.2,729.07 344.09,723.76 347.04,718.36 350.04,712.87 353.09,707.29 356.2,701.61 359.37,695.82 362.59,689.94 365.88,683.94 369.24,677.84 372.66,671.62 376.15,665.27 379.72,658.81 383.36,652.21 387.08,645.47 390.88,638.59 394.77,631.57 398.74,624.39 402.82,617.05 406.99,609.54 411.26,601.85 415.64,593.98 420.14,585.92" class="mr"/>
<polyline points="527.96,889.52 505.34,850.35 483.49,810.26 462.45,769.22 442.25,727.17 422.94,684.06 404.56,639.85 387.17,594.47 370.81,547.85 355.55,499.93 341.44,450.64 328.56,399.89 371.88,348.38 415.2,296.87 458.52,245.37 501.84,193.86 545.16,142.35" class="sa"/>
<polygon points="102.6,901.16 102.6,133.1 697.81,133.1 697.81,585.96 832.36,731.57 832.36,901.16" class="ol"/>
</g>
<g>
<text class="dl" transform="translate(109.1 845.31) rotate(60)" x="0" y="0">-30</text>
<text class="dl" transform="translate(110.29 756.83) rotate(60)" x="0" y="0">-20</text>
<text class="dl" transform="translate(112.32 669.73) rotate(60)" x="0" y="0">-10</text>
<text class="dl" transform="translate(112.59 580.15) rotate(60)" x="0" y="0">0</text>
<text class="dl" transform="translate(112.34 488.67) rotate(60)" x="0" y="0">10</text>
<text class="dl" transform="translate(113.84 397.98) rotate(60)" x="0" y="0">20</text>
<text class="dl" transform="translate(114.32 302.56) rotate(60)" x="0" y="0">30</text>
<text class="dl" transform="translate(115.37 203.36) rotate(60)" x="0" y="0">40</text>
<text class="dl" transform="translate(137.48 149.03) rotate(60)" x="0" y="0">50</text>
<text class="dl" transform="translate(182.35 149.03) rotate(60)" x="0" y="0">60</text>
<text class="dl" transform="translate(227.21 149.03) rotate(60)" x="0" y="0">70</text>
<text class="dl" transform="translate(272.08 149.03) rotate(60)" x="0" y="0">80</text>
<text class="dl" transform="translate(316.95 149.03) rotate(60)" x="0" y="0">90</text>
<text class="dl" transform="translate(361.82 149.03) rotate(60)" x="0" y="0">100</text>
<text class="dl" transform="translate(406.68 149.03) rotate(60)" x="0" y="0">110</text>
<text class="dl" transform="translate(451.55 149.03) rotate(60)" x="0" y="0">120</text>
<text class="dl" transform="translate(496.42 149.03) rotate(60)" x="0" y="0">130</text>
<text class="dl" transform="translate(541.29 149.03) rotate(60)" x="0" y="0">140</text>
<text class="dl" transform="translate(586.16 149.03) rotate(60)" x="0" y="0">150</text>
<text class="dl" transform="translate(631.02 149.03) rotate(60)" x="0" y="0">160</text>
<text class="ml" x="638.6" y="398">32</text>
<text class="ml" x="541.5" y="398">28</text>
<text class="ml" x="447.7" y="398">24</text>
<text class="ml" x="362.5" y="398">20</text>
<text class="ml" x="286.5" y="398">16</text>
<text class="ml" x="218.1" y="398">12</text>
<text class="ml" x="159.5" y="398">8</text>
<text class="xl" transform="translate(611.93 892.48) rotate(-68.17)" x="0" y="0">20</text>
<text class="xl" transform="translate(542.44 892.48) rotate(-66.87)" x="0" y="0">12</text>
<text class="xl" transform="translate(489.79 892.48) rotate(-65.92)" x="0" y="0">8</text>
<text class="xl" transform="translate(431.53 892.48) rotate(-64.91)" x="0" y="0">5</text>
<text class="xl" transform="translate(371.48 892.48) rotate(-63.93)" x="0" y="0">3</text>
<text class="xl" transform="translate(326.12 892.48) rotate(-63.21)" x="0" y="0">2</text>
<text class="xl" transform="translate(252.98 892.48) rotate(-62.12)" x="0" y="0">1</text>
<text class="tl" transform="translate(707.35 221.85) rotate(-45)">-30</text>
<text class="tl" transform="translate(706.5 324.55) rotate(-45)">-20</text>
<text class="tl" transform="translate(707.95 424.4) rotate(-45)">-10</text>
<text class="tl" transform="translate(708.25 525.75) rotate(-45)">0</text>
<text class="tl" transform="translate(730.75 599.15) rotate(-45)">10</text>
<text class="tl" transform="translate(774.75 649.6) rotate(-45)">20</text>
<text class="tl" transform="translate(819.5 698) rotate(-45)">30</text>
</g>
<g>
<text class="pl" x="89.6" y="133.1">100</text>
<text class="pl" x="89.6" y="265.54">150</text>
<text class="pl" x="89.6" y="359.51">200</text>
<text class="pl" x="89.6" y="432.39">250</text>
<text class="pl" x="89.6" y="491.95">300</text>
<text class="pl" x="89.6" y="585.92">400</text>
<text class="pl" x="89.6" y="658.81">500</text>
<text class="pl" x="89.6" y="768.71">700</text>
<text class="pl" x="89.6" y="832.13">850</text>
<text class="pl" x="89.6" y="885.22">1000</text>
<line x1="133.5" y1="901" x2="133.5" y2="911" class="tk"/>
<text class="xt" x="133.5" y="940">-30</text>
<line x1="218.98" y1="901" x2="218.98" y2="911" class="tk"/>
<text class="xt" x="218.98" y="940">-20</text>
<line x1="304.46" y1="901" x2="304.46" y2="911" class="tk"/>
<text class="xt" x="304.46" y="940">-10</text>
<line x1="389.95" y1="901" x2="389.95" y2="911" class="tk"/>
<text class="xt" x="389.95" y="940">0</text>
<line x1="475.43" y1="901" x2="475.43" y2="911" class="tk"/>
<text class="xt" x="475.43" y="940">10</text>
<line x1="560.91" y1="901" x2="560.91" y2="911" class="tk"/>
<text class="xt" x="560.91" y="940">20</text>
<line x1="646.39" y1="901" x2="646.39" y2="911" class="tk"/>
<text class="xt" x="646.39" y="940">30</text>
<line x1="731.87" y1="901" x2="731.87" y2="911" class="tk"/>
<text class="xt" x="731.87" y="940">40</text>
</g>
<g>
<polyline points="344.7,167.2 329.4,225.2 344.3,283.2 374.4,344 389.4,370 426.7,433.7 431.6,440.8 490,526.6 504.8,548.5 509.1,556.7 524.4,586.4 530.2,600 544.3,643.5 545.3,656.4 548.7,687.9 564.2,733 589.5,767 616.25,791.25 638.1,807.7 666.25,830.3 686.3,851.1 695.1,859.3 699.8,866.9 698,871.6 691,875.1 676.7,878" class="td"/>
<polyline points="319.1,167.4 297.3,225.1 314,283 306.1,340.2 269.8,394.8 303.8,447.9 344.8,499.1 349.8,549.1 317.7,595.6 263,643.2 415.9,689.9 513.5,733 558.6,766.1 565.4,788.3 565.7,800 565.2,820 564.9,832.3 563.8,843.9 562.8,854.2 558.7,866.5 557.3,875 569.3,878.1" class="dw"/>
<polyline points="545.2,646.8 569.9,733.7" class="pc"/>
</g>
<defs><clipPath id="wc"><rect x="700" y="133.3" width="200" height="900"/></clipPath></defs>
<g class="wind" clip-path="url(#wc)">
<line x1="784.5" y1="133.3" x2="784.5" y2="890" class="staff"/>
<circle cx="784.7" cy="133.1" r="3.6" class="oc"/>
<circle cx="784.7" cy="265.54" r="3.6" class="oc"/>
<circle cx="784.7" cy="359.51" r="3.6" class="oc"/>
<circle cx="784.7" cy="432.39" r="3.6" class="oc"/>
<circle cx="784.7" cy="491.95" r="3.6" class="oc"/>
<circle cx="784.7" cy="585.92" r="3.6" class="oc"/>
<circle cx="784.7" cy="658.81" r="3.6" class="oc"/>
<circle cx="784.7" cy="768.71" r="3.6" class="oc"/>
<circle cx="784.7" cy="832.13" r="3.6" class="oc"/>
<circle cx="784.7" cy="885.22" r="3.6" class="oc"/>
<circle cx="784.7" cy="182.6" r="2"/>
<circle cx="784.7" cy="260.2" r="2"/>
<circle cx="784.7" cy="339.7" r="2"/>
<circle cx="784.7" cy="416.4" r="2"/>
<circle cx="784.7" cy="492" r="2"/>
<circle cx="784.7" cy="565.4" r="2"/>
<circle cx="784.7" cy="635.2" r="2"/>
<circle cx="784.7" cy="662.5" r="2"/>
<circle cx="784.7" cy="688.5" r="2"/>
<circle cx="784.7" cy="715.4" r="2"/>
<circle cx="784.7" cy="741.6" r="2"/>
<circle cx="784.7" cy="767" r="2"/>
<circle cx="784.7" cy="779.9" r="2"/>
<circle cx="784.7" cy="792.2" r="2"/>
<circle cx="784.7" cy="804.7" r="2"/>
<circle cx="784.7" cy="817" r="2"/>
<circle cx="784.7" cy="829.1" r="2"/>
<circle cx="784.7" cy="841.9" r="2"/>
<circle cx="784.7" cy="854" r="2"/>
<circle cx="784.7" cy="865.8" r="2"/>
<circle cx="784.7" cy="877.5" r="2"/>
<circle cx="784.7" cy="889.7" r="2"/>
<line x1="784.7" y1="167.5" x2="819.79" y2="162.12"/>
<line x1="819.79" y1="162.12" x2="827.09" y2="172.27"/>
<line x1="784.7" y1="225.1" x2="770.31" y2="192.65"/>
<line x1="771.61" y1="195.57" x2="775.52" y2="190.76"/>
<line x1="784.7" y1="283.1" x2="750.32" y2="274.25"/>
<line x1="750.32" y1="274.25" x2="747.6" y2="262.05"/>
<line x1="784.7" y1="340" x2="749.2" y2="340.49"/>
<line x1="749.2" y1="340.49" x2="743.37" y2="329.43"/>
<line x1="784.7" y1="395.4" x2="749.6" y2="390.11"/>
<line x1="752.76" y1="390.59" x2="750.8" y2="384.71"/>
<line x1="784.7" y1="448.3" x2="810.97" y2="424.42"/>
<line x1="784.7" y1="499" x2="805.72" y2="470.39"/>
<line x1="803.83" y1="472.97" x2="809.94" y2="473.97"/>
<line x1="784.7" y1="548.4" x2="806.37" y2="520.28"/>
<line x1="806.37" y1="520.28" x2="818.66" y2="522.58"/>
<line x1="804.42" y1="522.82" x2="810.51" y2="523.96"/>
<line x1="784.7" y1="596.3" x2="814.67" y2="577.27"/>
<line x1="814.67" y1="577.27" x2="825.43" y2="583.64"/>
<line x1="811.97" y1="578.99" x2="817.31" y2="582.14"/>
<line x1="784.7" y1="643.6" x2="816.65" y2="628.13"/>
<line x1="816.65" y1="628.13" x2="826.61" y2="635.69"/>
<line x1="813.77" y1="629.53" x2="818.71" y2="633.28"/>
<line x1="784.7" y1="688.5" x2="816.35" y2="672.42"/>
<line x1="816.35" y1="672.42" x2="826.45" y2="679.78"/>
<line x1="813.5" y1="673.87" x2="818.51" y2="677.52"/>
<line x1="784.7" y1="732.6" x2="815.11" y2="714.28"/>
<line x1="815.11" y1="714.28" x2="825.72" y2="720.89"/>
<line x1="812.37" y1="715.93" x2="817.63" y2="719.21"/>
<line x1="784.7" y1="766.2" x2="807.92" y2="739.35"/>
<line x1="807.92" y1="739.35" x2="820.06" y2="742.34"/>
<line x1="805.83" y1="741.77" x2="811.85" y2="743.25"/>
<line x1="784.7" y1="788.1" x2="802.6" y2="757.44"/>
<line x1="802.6" y1="757.44" x2="815.08" y2="758.16"/>
<line x1="784.7" y1="808.4" x2="801.85" y2="777.32"/>
<line x1="801.85" y1="777.32" x2="814.34" y2="777.73"/>
<line x1="784.7" y1="828" x2="807.2" y2="800.54"/>
<line x1="805.17" y1="803.02" x2="811.23" y2="804.34"/>
<line x1="784.7" y1="844.7" x2="806.86" y2="872.43"/>
<line x1="784.6" y1="861.8" x2="797.6" y2="911" style="stroke:#000;stroke-width:1.6"/>
<line x1="792.45" y1="891.5" x2="783.55" y2="895.6"/>
<line x1="793.24" y1="894.5" x2="784.64" y2="899.7"/>
<line x1="794.03" y1="897.5" x2="785.73" y2="903.8"/>
<line x1="794.83" y1="900.5" x2="786.83" y2="907.9"/>
<line x1="795.54" y1="903.2" x2="787.74" y2="911.6"/>
<line x1="796.17" y1="905.6" x2="788.57" y2="914.9"/>
<line x1="796.81" y1="908" x2="789.41" y2="918.1"/>
<line x1="797.47" y1="910.5" x2="790.37" y2="921.4"/>
</g>
<g>
<line x1="870.5" y1="132.7" x2="870.5" y2="901" class="hax"/>
<line x1="870.5" y1="889.5" x2="880.8" y2="889.5" class="htk"/>
<text class="hl" x="892.8" y="896.8">0</text>
<line x1="870.5" y1="850.5" x2="880.8" y2="850.5" class="htk"/>
<text class="hl" x="892.8" y="857.8">1</text>
<line x1="870.5" y1="810.5" x2="880.8" y2="810.5" class="htk"/>
<text class="hl" x="892.8" y="817.8">2</text>
<line x1="870.5" y1="769.5" x2="880.8" y2="769.5" class="htk"/>
<text class="hl" x="892.8" y="776.8">3</text>
<line x1="870.5" y1="727.5" x2="880.8" y2="727.5" class="htk"/>
<text class="hl" x="892.8" y="734.8">4</text>
<line x1="870.5" y1="683.5" x2="880.8" y2="683.5" class="htk"/>
<text class="hl" x="892.8" y="690.8">5</text>
<line x1="870.5" y1="639.5" x2="880.8" y2="639.5" class="htk"/>
<text class="hl" x="892.8" y="646.8">6</text>
<line x1="870.5" y1="594.5" x2="880.8" y2="594.5" class="htk"/>
<text class="hl" x="892.8" y="601.8">7</text>
<line x1="870.5" y1="547.5" x2="880.8" y2="547.5" class="htk"/>
<text class="hl" x="892.8" y="554.8">8</text>
<line x1="870.5" y1="499.5" x2="880.8" y2="499.5" class="htk"/>
<text class="hl" x="892.8" y="506.8">9</text>
<line x1="870.5" y1="450.5" x2="880.8" y2="450.5" class="htk"/>
<text class="hl" x="892.8" y="457.8">10</text>
<line x1="870.5" y1="399.5" x2="880.8" y2="399.5" class="htk"/>
<text class="hl" x="892.8" y="406.8">11</text>
<line x1="870.5" y1="349.5" x2="880.8" y2="349.5" class="htk"/>
<text class="hl" x="892.8" y="356.8">12</text>
<line x1="870.5" y1="297.5" x2="880.8" y2="297.5" class="htk"/>
<text class="hl" x="892.8" y="304.8">13</text>
<line x1="870.5" y1="246.5" x2="880.8" y2="246.5" class="htk"/>
<text class="hl" x="892.8" y="253.8">14</text>
<line x1="870.5" y1="194.5" x2="880.8" y2="194.5" class="htk"/>
<text class="hl" x="892.8" y="201.8">15</text>
<line x1="870.5" y1="143.5" x2="880.8" y2="143.5" class="htk"/>
<text class="hl" x="892.8" y="150.8">16</text>
</g>
<text transform="translate(855 542) rotate(90)" text-anchor="middle" style="font-size:20px" dominant-baseline="central">Height (Km)</text>
<text transform="translate(47 537.7) rotate(-90)" text-anchor="middle" style="font-size:18px" dominant-baseline="central">P (hPa)</text>
<text x="486.9" y="963.4" text-anchor="middle" style="font-size:18px">Temperature (C)</text>
</svg>
</body></html>
